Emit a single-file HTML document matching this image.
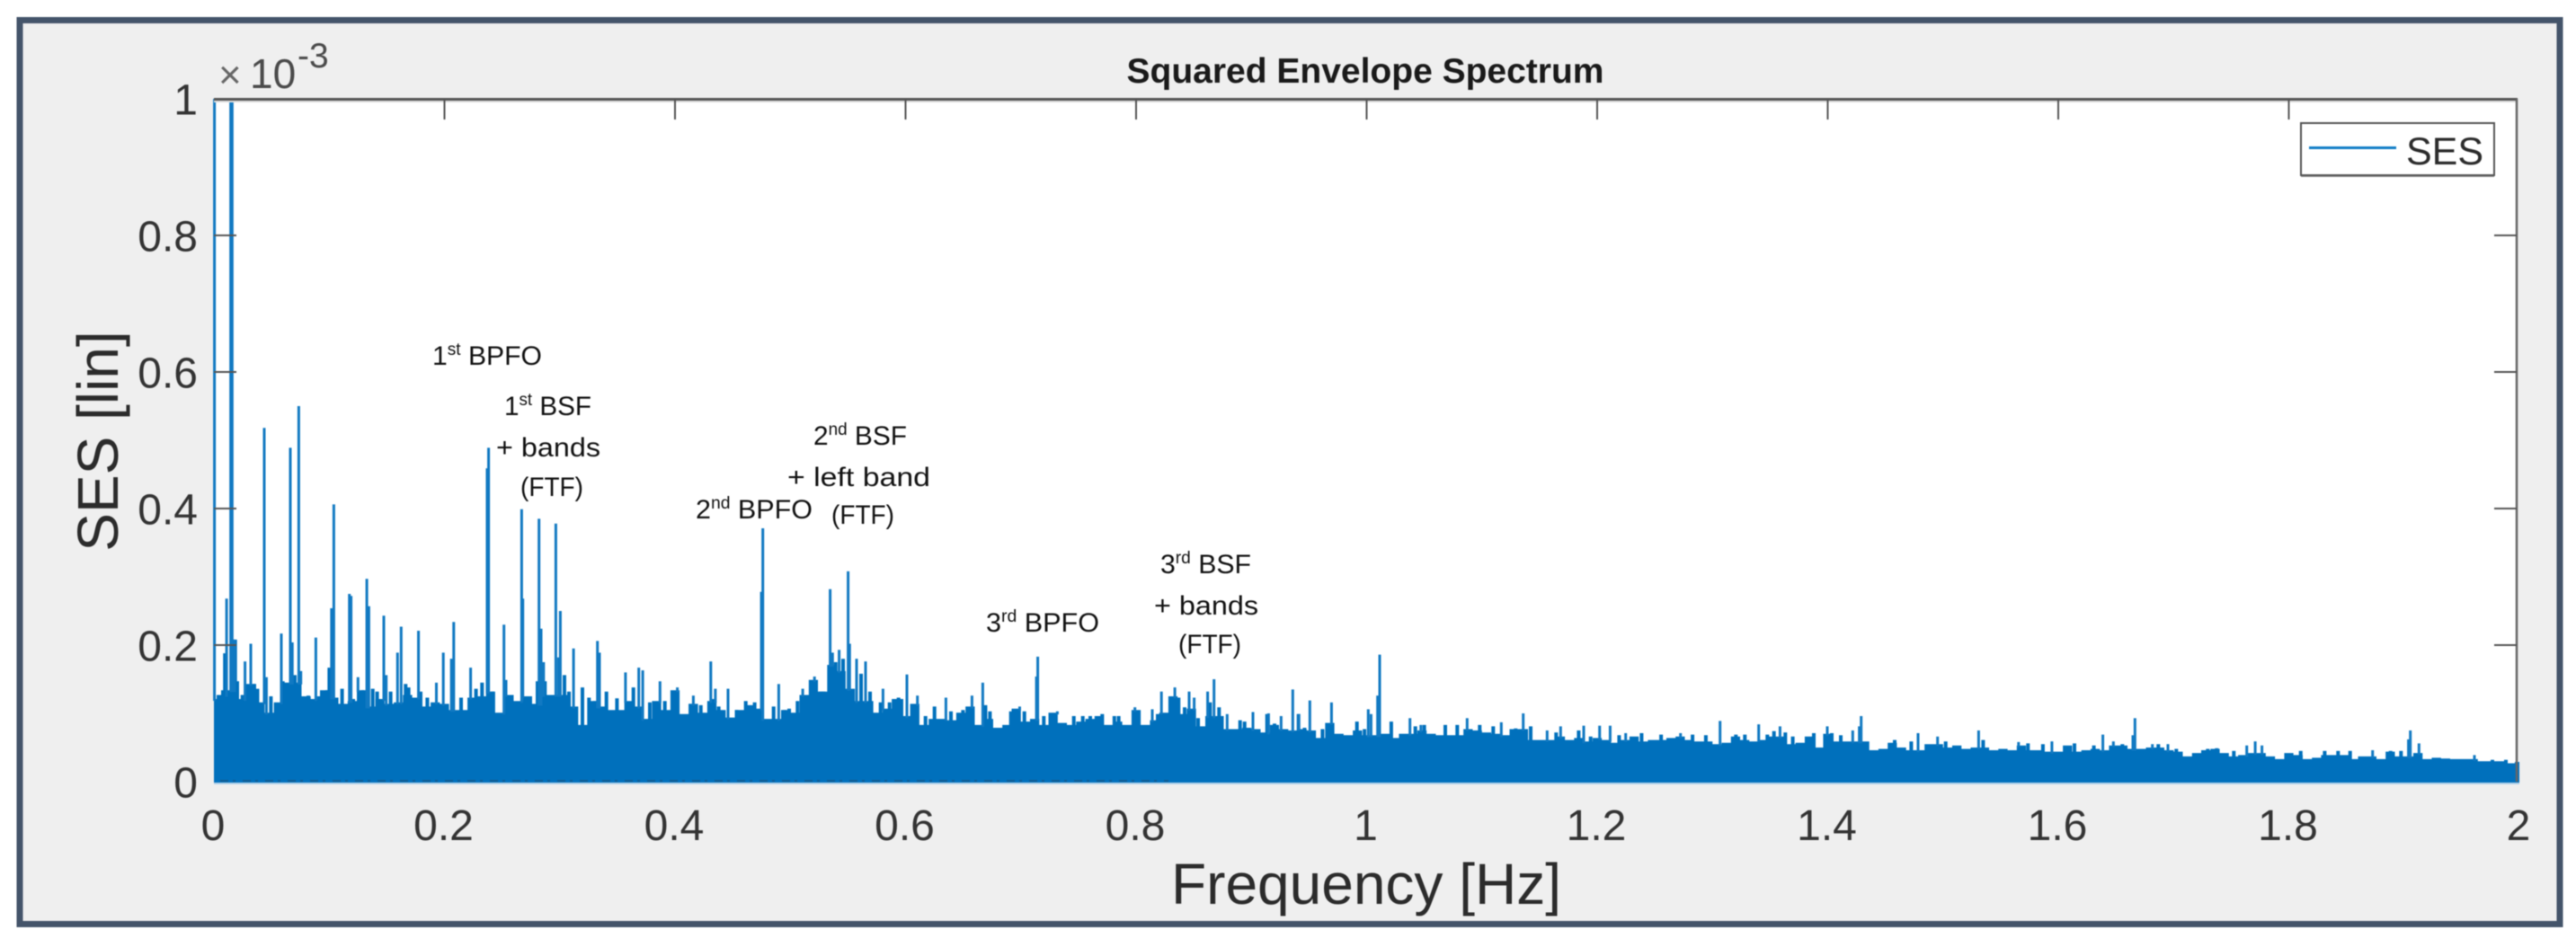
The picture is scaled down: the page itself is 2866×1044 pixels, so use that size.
<!DOCTYPE html>
<html lang="en">
<head>
<meta charset="utf-8">
<title>Squared Envelope Spectrum</title>
<style>
html,body{margin:0;padding:0;background:#fff;width:2866px;height:1044px;overflow:hidden}
svg{display:block;filter:blur(0.6px)}
text{font-family:"Liberation Sans",Arial,sans-serif}
.tick-label{font-size:48px;fill:#333}
.axis-title{font-size:64px;fill:#2b2b2b}
.note{font-size:30px;fill:#111}
.sup{font-size:19px}
</style>
</head>
<body>
<svg id="chart" xmlns="http://www.w3.org/2000/svg" width="2866" height="1044" viewBox="0 0 2866 1044">
  <defs>
    <clipPath id="plot-clip"><rect x="236" y="110" width="2568" height="763"/></clipPath>
  </defs>
  <rect x="22" y="22.5" width="2826" height="1006" fill="#efefef" stroke="#44546a" stroke-width="7"/>
  <rect x="238" y="110" width="2563" height="760" fill="#ffffff"/>
  <g id="series" clip-path="url(#plot-clip)"></g>
  <line x1="245" y1="869" x2="1300" y2="869" stroke="#26425f" stroke-width="2" stroke-dasharray="9 5 3 8" opacity="0.45"/>
  <rect x="238" y="871" width="2565" height="2" fill="#b4d2ea"/>
  <rect x="238" y="112" width="2563" height="2" fill="#dddddd"/>
  <line x1="238" y1="110.5" x2="2801" y2="110.5" stroke="#555555" stroke-width="3"/>
  <line x1="2800" y1="110" x2="2800" y2="870" stroke="#666666" stroke-width="2.5"/>
  <g id="ticks"></g>
  <text x="243" y="98" font-size="44" fill="#666666">×</text>
  <text x="278" y="98" font-size="46" fill="#4a4a4a">10</text>
  <text x="331" y="75" font-size="39" fill="#4a4a4a">-3</text>
  <text x="1519" y="92" font-size="39" font-weight="bold" fill="#1a1a1a" text-anchor="middle">Squared Envelope Spectrum</text>
  <text class="axis-title" x="1520" y="1006" text-anchor="middle">Frequency [Hz]</text>
  <text class="axis-title" transform="translate(131 491) rotate(-90)" text-anchor="middle">SES [lin]</text>

  <g>
    <rect x="2560" y="141" width="215" height="56" fill="#8f8f8f"/>
    <rect x="2560" y="137" width="215" height="58" fill="#ffffff" stroke="#555555" stroke-width="2"/>
    <line x1="2569" y1="164.5" x2="2666" y2="164.5" stroke="#0f7cc6" stroke-width="3"/>
    <text x="2677" y="183" font-size="43" fill="#2b2b2b">SES</text>
  </g>

  <g>
    <text class="note" x="481" y="406" textLength="122" lengthAdjust="spacingAndGlyphs">1<tspan class="sup" dy="-11">st</tspan><tspan dy="11"> BPFO</tspan></text>
    <text class="note" x="561" y="462" textLength="97" lengthAdjust="spacingAndGlyphs">1<tspan class="sup" dy="-11">st</tspan><tspan dy="11"> BSF</tspan></text>
    <text class="note" x="552" y="508" textLength="116" lengthAdjust="spacingAndGlyphs">+ bands</text>
    <text class="note" x="579" y="552" textLength="70" lengthAdjust="spacingAndGlyphs">(FTF)</text>
    <text class="note" x="905" y="495" textLength="104" lengthAdjust="spacingAndGlyphs">2<tspan class="sup" dy="-11">nd</tspan><tspan dy="11"> BSF</tspan></text>
    <text class="note" x="876" y="541" textLength="159" lengthAdjust="spacingAndGlyphs">+ left band</text>
    <text class="note" x="925" y="583" textLength="70" lengthAdjust="spacingAndGlyphs">(FTF)</text>
    <text class="note" x="774" y="577" textLength="130" lengthAdjust="spacingAndGlyphs">2<tspan class="sup" dy="-11">nd</tspan><tspan dy="11"> BPFO</tspan></text>
    <text class="note" x="1097" y="703" textLength="126" lengthAdjust="spacingAndGlyphs">3<tspan class="sup" dy="-11">rd</tspan><tspan dy="11"> BPFO</tspan></text>
    <text class="note" x="1291" y="638" textLength="101" lengthAdjust="spacingAndGlyphs">3<tspan class="sup" dy="-11">rd</tspan><tspan dy="11"> BSF</tspan></text>
    <text class="note" x="1284" y="684" textLength="116" lengthAdjust="spacingAndGlyphs">+ bands</text>
    <text class="note" x="1311" y="727" textLength="70" lengthAdjust="spacingAndGlyphs">(FTF)</text>
  </g>
</svg>
<script>
var xTickValues = [0, 0.2, 0.4, 0.6, 0.8, 1, 1.2, 1.4, 1.6, 1.8, 2];
var xTickLabels = ["0", "0.2", "0.4", "0.6", "0.8", "1", "1.2", "1.4", "1.6", "1.8", "2"];
var yTickValues = [0, 0.2, 0.4, 0.6, 0.8, 1];
var yTickLabels = ["0", "0.2", "0.4", "0.6", "0.8", "1"];
var binHz = 0.008;
var noiseFloor = [
.121,.127,.134,.121,.143,.116,.101,.116,.145,.145,.125,.121,.134,.123,.114,.118,.134,.110,.121,.114,.116,.127,.123,.110,.116,.114,.105,.105,.123,.125,.132,.101,.127,.118,.125,.114,.127,.127,.127,.110,.083,.118,.110,.105,.105,.118,.110,.092,.118,.105,.134,
.099,.114,.101,.118,.105,.094,.105,.112,.107,.092,.092,.105,.101,.127,.149,.132,.171,.162,.136,.118,.118,.101,.107,.121,.096,.114,.083,.092,.092,.090,.101,.110,.083,.092,.079,.083,.107,.088,.092,.083,.101,.086,.083,.088,.092,.096,.083,.088,.083,.105,
.083,.090,.101,.125,.099,.107,.081,.096,.096,.077,.077,.079,.077,.072,.083,.077,.075,.077,.075,.064,.086,.070,.068,.075,.068,.068,.070,.064,.070,.070,.075,.070,.068,.068,.068,.077,.075,.072,.070,.068,.077,.077,.061,.061,.061,.066,.061,.064,.059,.064,.061,
.057,.061,.066,.059,.061,.061,.064,.066,.061,.059,.059,.055,.057,.066,.061,.059,.061,.066,.066,.055,.057,.066,.050,.070,.059,.059,.059,.059,.046,.048,.057,.050,.046,.046,.055,.055,.050,.053,.048,.050,.050,.046,.048,.046,.053,.046,.046,.044,.044,.053,.044,
.046,.048,.046,.053,.053,.048,.048,.050,.050,.046,.044,.037,.042,.046,.048,.042,.037,.039,.042,.042,.037,.033,.042,.039,.033,.035,.039,.039,.039,.033,.037,.037,.033,.044,.037,.037,.042,.033,.035,.034,.033,.033,.033,.030,.030,.030,.027,.029
];
var rippleFreq = [
.0039,.0078,.0095,.0165,.0185,.0203,.0247,.0351,.0377,.0494,.0598,.0629,.0702,.0769,.0819,.091,.0982,.1001,.1112,.1209,.1292,.1378,.1416,.1533,.1663,.1689,.1793,.1851,.2144,.2274,.2326,.2417,.256,.2807,.2872,.2924,.3041,.308,.3197,.3254,.3306,.3405,.3496,.3639,.3782,.3912,
.4133,.4224,.4327,.4379,.4535,.4614,.4691,.4855,.4951,.499,.5063,.5172,.5263,.5289,.5393,.5458,.5614,.5692,.5783,.5861,.5939,.5965,.6069,.6173,.6251,.6394,.6498,.6693,.6732,.6914,.7031,.7199,.746,.7538,.7602,.7706,.7811,.7849,
.8187,.8369,.8421,.8538,.8642,.872,.8902,.8941,.9136,.9201,.9409,.9461,.9617,.9916,.9981,1.0214,1.0423,1.05,1.0682,1.0786,1.0981,1.1098,1.1293,1.1423,1.1644,1.1839,1.1943,
1.219,1.2385,1.2554,1.2827,1.2943,1.3203,1.3281,1.3476,1.3534,1.3632,1.3697,1.3879,1.4035,1.4113,1.4581,1.4724,1.5023,1.5348,1.5737,1.5867,1.614,
1.6309,1.6556,1.6868,1.7024,1.7297,1.7375,1.7523,1.8103,1.8311,1.8427,1.8532,1.8883,1.8973,1.9766,1.9883
];
var rippleAmp = [
.127,.134,.188,.208,.208,.147,.127,.143,.136,.125,.147,.143,.156,.123,.126,.125,.134,.167,.136,.121,.134,.136,.132,.132,.143,.138,.132,.123,.123,.136,.145,.132,.127,.147,.147,.127,.156,.132,.138,.123,.118,.132,.122,.138,.116,.118,
.114,.112,.121,.110,.105,.118,.116,.110,.105,.107,.118,.127,.132,.132,.175,.18,.158,.132,.116,.116,.123,.121,.105,.096,.11,.103,.105,.112,.103,.103,.103,.096,.096,.096,.096,.099,.096,.096,
.099,.123,.109,.093,.116,.109,.09,.088,.099,.085,.099,.079,.077,.088,.077,.088,.081,.083,.083,.083,.083,.081,.078,.081,.072,.075,.066,
.068,.071,.069,.069,.068,.069,.069,.069,.074,.072,.066,.071,.071,.068,.061,.059,.059,.061,.056,.055,.056,
.053,.055,.055,.048,.048,.049,.045,.045,.045,.045,.045,.045,.045,.032,.032
];
var peakFreq = [
0.0005,.0146,.0158,.011,.018,.027,.032,.0437,.0455,.0585,.0663,.068,.0736,.0754,.0884,.102,.104,.1175,.119,.125,.1326,.1344,.1474,.1495,.1593,.1624,.1775,.193,.199,.206,.208,.2227,.237,.2383,.2516,.2534,.267,.268,.282,.2838,.286,.2966,.299,.3005,.312,.3327,.3345,.357,.3686,.372,.387,.402,
.4159,.431,.435,.446,.4749,.4762,.490,.5108,.521,.5346,.5367,.5424,.5502,.5515,.5575,.5653,.5804,.6012,.6103,.635,.6576,.667,.699,.7135,.7147,.7317,.799,
.814,.822,.8336,.846,.8504,.8621,.8676,.879,.9014,.9149,.9258,.9359,.9411,.9507,.9695,1.0014,1.0038,1.0095,1.0113,1.0376,1.047,1.0872,1.1168,1.1358,1.1566,1.1683,1.1883,1.2021,1.2112,
1.2247,1.2723,1.3066,1.3401,1.3586,1.3996,1.4217,1.4274,1.429,1.4784,1.4953,1.5309,1.5655,1.5945,
1.6387,1.6478,1.6647,1.6665,1.6816,1.6951,1.7635,1.7708,1.7767,1.8727,1.9038,1.9054,1.9129,1.961
];
var peakAmp = [
1.4,1.4,1.4,.268,.208,.176,.202,.518,.153,.217,.489,.204,.550,.162,.211,.254,.406,.275,.272,.153,.297,.257,.243,.156,.189,.227,.221,.145,.189,.18,.234,.167,.459,.489,.230,.149,.399,.268,.385,.224,.175,.378,.182,.25,.195,.206,.189,.160,.167,.163,.147,.138,
.126,.176,.136,.136,.278,.371,.143,.136,.154,.282,.189,.193,.308,.202,.18,.176,.136,.157,.126,.123,.126,.145,.11,.154,.183,.103,.109,
.106,.132,.138,.132,.123,.132,.15,.099,.102,.10,.096,.135,.099,.119,.116,.106,.099,.126,.186,.093,.083,.093,.087,.10,.075,.081,.082,.082,.082,
.071,.071,.089,.084,.081,.081,.075,.081,.096,.071,.066,.075,.058,.059,
.069,.059,.068,.093,.055,.055,.053,.059,.053,.046,.062,.075,.056,.039
];

var SVG_NS = "http://www.w3.org/2000/svg";
function xScale(f) { return 238 + f * 1282.5; }
function yScale(v) { return 870 - v * 760; }

var series = document.getElementById("series");
var ticks = document.getElementById("ticks");

var d = "M" + xScale(0) + " 872";
for (var i = 0; i < noiseFloor.length; i++) {
  var x0 = xScale(Math.max(0, (i - 0.5) * binHz));
  var x1 = xScale(Math.min(2, (i + 0.5) * binHz));
  d += "L" + x0.toFixed(1) + " " + yScale(noiseFloor[i]).toFixed(1);
  d += "L" + x1.toFixed(1) + " " + yScale(noiseFloor[i]).toFixed(1);
}
d += "L" + xScale(2).toFixed(1) + " 872Z";
var area = document.createElementNS(SVG_NS, "path");
area.setAttribute("d", d);
area.setAttribute("fill", "#0070bc");


series.appendChild(area);

for (var r = 0; r < rippleFreq.length; r++) {
  var rip = document.createElementNS(SVG_NS, "line");
  rip.setAttribute("x1", xScale(rippleFreq[r]).toFixed(1));
  rip.setAttribute("x2", xScale(rippleFreq[r]).toFixed(1));
  rip.setAttribute("y1", "872");
  rip.setAttribute("y2", yScale(rippleAmp[r]).toFixed(1));
  rip.setAttribute("stroke", "#0070bc");
  rip.setAttribute("stroke-width", "4");
  
  
  series.appendChild(rip);
}

for (var p = 0; p < peakFreq.length; p++) {
  var bin = Math.min(noiseFloor.length - 1, Math.round(peakFreq[p] / binHz));
  var yTop = yScale(peakAmp[p]);
  var yBase = Math.max(yTop, yScale(noiseFloor[bin]) + 2);
  var stem = document.createElementNS(SVG_NS, "line");
  stem.setAttribute("x1", xScale(peakFreq[p]).toFixed(1));
  stem.setAttribute("x2", xScale(peakFreq[p]).toFixed(1));
  stem.setAttribute("y1", yBase.toFixed(1));
  stem.setAttribute("y2", yTop.toFixed(1));
  stem.setAttribute("stroke", "#1179c2");
  stem.setAttribute("stroke-width", "3");
  
  
  series.appendChild(stem);
}

for (var a = 0; a < xTickValues.length; a++) {
  var xp = xScale(xTickValues[a]);
  if (a > 0 && a < xTickValues.length - 1) {
    var xt = document.createElementNS(SVG_NS, "line");
    xt.setAttribute("x1", xp);
    xt.setAttribute("x2", xp);
    xt.setAttribute("y1", 110);
    xt.setAttribute("y2", 133);
    xt.setAttribute("stroke", "#555555");
    xt.setAttribute("stroke-width", "2");
    
    
    ticks.appendChild(xt);
  }
  var xl = document.createElementNS(SVG_NS, "text");
  xl.setAttribute("x", xp - 1);
  xl.setAttribute("y", 935);
  xl.setAttribute("text-anchor", "middle");
  xl.setAttribute("class", "tick-label");
  
  
  xl.textContent = xTickLabels[a];
  ticks.appendChild(xl);
}

for (var b = 0; b < yTickValues.length; b++) {
  var yp = yScale(yTickValues[b]);
  if (b > 0 && b < yTickValues.length - 1) {
    var yt = document.createElementNS(SVG_NS, "line");
    yt.setAttribute("x1", 238);
    yt.setAttribute("x2", 263);
    yt.setAttribute("y1", yp);
    yt.setAttribute("y2", yp);
    yt.setAttribute("stroke", "#555555");
    yt.setAttribute("stroke-width", "2");
    
    
    ticks.appendChild(yt);
    var yr = document.createElementNS(SVG_NS, "line");
    yr.setAttribute("x1", 2775);
    yr.setAttribute("x2", 2800);
    yr.setAttribute("y1", yp);
    yr.setAttribute("y2", yp);
    yr.setAttribute("stroke", "#555555");
    yr.setAttribute("stroke-width", "2");
    
    
    ticks.appendChild(yr);
  }
  var yl = document.createElementNS(SVG_NS, "text");
  yl.setAttribute("x", 220);
  yl.setAttribute("y", yp + 17.5);
  yl.setAttribute("text-anchor", "end");
  yl.setAttribute("class", "tick-label");
  
  
  yl.textContent = yTickLabels[b];
  ticks.appendChild(yl);
}
</script>
</body>
</html>
